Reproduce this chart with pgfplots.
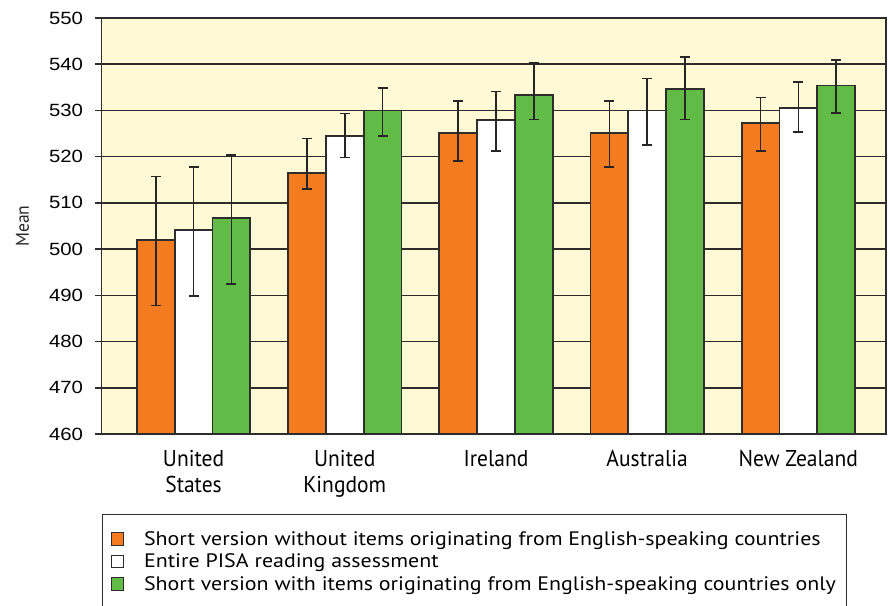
\documentclass[border=0pt]{standalone}
\usepackage{graphicx}
\usepackage{pgfplots}
\pgfplotsset{compat=1.18}
\usepackage{pgfplotstable}
\usepackage{fontspec}
\setmainfont{PT Sans}
\newfontfamily\tickfont[FakeStretch=1.15]{Liberation Sans}
\newfontfamily\legfont[FakeStretch=1.125]{PT Sans}
\newfontfamily\xfont[FakeStretch=0.94]{PT Sans}
\newfontfamily\labfont[FakeStretch=0.95]{PT Sans}
\definecolor{orangebar}{RGB}{244,123,32}
\definecolor{greenbar}{RGB}{98,187,70}
\definecolor{bgyellow}{RGB}{255,249,214}
\definecolor{edge}{RGB}{45,45,45}

\pgfplotstableread{
x y ep em
-0.25 502.0 13.7 14.2
0.75 516.5 7.4 3.5
1.75 525.2 6.8 6.1
2.75 525.2 6.9 7.4
3.75 527.2 5.6 6.0
}\orangedata
\pgfplotstableread{
x y ep em
0 504.1 13.7 14.2
1 524.5 4.8 4.7
2 527.9 6.2 6.7
3 530.0 6.9 7.5
4 530.6 5.6 5.3
}\whitedata
\pgfplotstableread{
x y ep em
0.25 506.8 13.6 14.3
1.25 530.0 4.8 5.5
2.25 533.4 6.9 5.4
3.25 534.7 6.9 6.7
4.25 535.4 5.5 6.0
}\greendata

\pgfplotsset{
  myerr/.style={
    error bars/.cd, y dir=both, y explicit,
    error bar style={line width=1.6pt, black!85},
    error mark options={rotate=90, line width=1.6pt, black!85, mark size=5pt},
  }
}

\begin{document}
\begin{tikzpicture}
\begin{axis}[
  name=ax,
  scale only axis,
  width=784.5pt, height=416pt,
  xmin=-0.609, xmax=4.58,
  ymin=460, ymax=550,
  ytick={460,470,...,550},
  xtick={0,1,2,3,4},
  xticklabels={{United\\States},{United\\Kingdom},Ireland,Australia,New Zealand},
  xticklabel style={align=center, font=\xfont\fontsize{22.9}{26}\selectfont, yshift=-7pt},
  x tick style={draw=none},
  ytick pos=left,
  tick align=outside,
  major tick length=6pt,
  y tick style={edge, line width=1.6pt},
  yticklabel style={font=\tickfont\fontsize{17.7}{20}\selectfont, xshift=-9pt},
  /pgf/number format/assume math mode=true,
  ymajorgrids,
  grid style={edge, line width=1.6pt},
  axis line style={edge, line width=1.6pt},
  axis background/.style={fill=bgyellow},
  ybar,
  bar width=0.25,
  legend style={at={(axis description cs:0.0003,-0.1923)}, anchor=north west, draw=edge, line width=1.2pt,
    font=\legfont\fontsize{19.5}{22}\selectfont, inner xsep=8.3pt, inner ysep=15pt, row sep=3pt},
  legend cell align=left,
  legend image code/.code={\draw[#1, draw=edge, line width=1pt] (0pt,-6.3pt) rectangle (12pt,6.3pt); \path (30pt,0pt);},
]
\addplot[fill=orangebar, draw=edge, line width=1.8pt, bar shift=0pt, myerr]
  table[x=x, y=y, y error plus=ep, y error minus=em]{\orangedata};
\addlegendentry{Short version without items originating from English-speaking countries}
\addplot[fill=white, draw=edge, line width=1.8pt, bar shift=0pt, myerr]
  table[x=x, y=y, y error plus=ep, y error minus=em]{\whitedata};
\addlegendentry{Entire PISA reading assessment}
\addplot[fill=greenbar, draw=edge, line width=1.8pt, bar shift=0pt, myerr]
  table[x=x, y=y, y error plus=ep, y error minus=em]{\greendata};
\addlegendentry{Short version with items originating from English-speaking countries only}
\end{axis}
\node[rotate=90, text=black!85, anchor=center, inner sep=0pt] at ([xshift=-79pt]ax.west) {\labfont\fontsize{10}{12}\selectfont\scalebox{1.85}{Mean}};
\pgfresetboundingbox
\path[use as bounding box] ([xshift=-101.5pt,yshift=-171pt]ax.south west) rectangle ([xshift=2pt,yshift=18pt]ax.north east);
\end{tikzpicture}
\end{document}
